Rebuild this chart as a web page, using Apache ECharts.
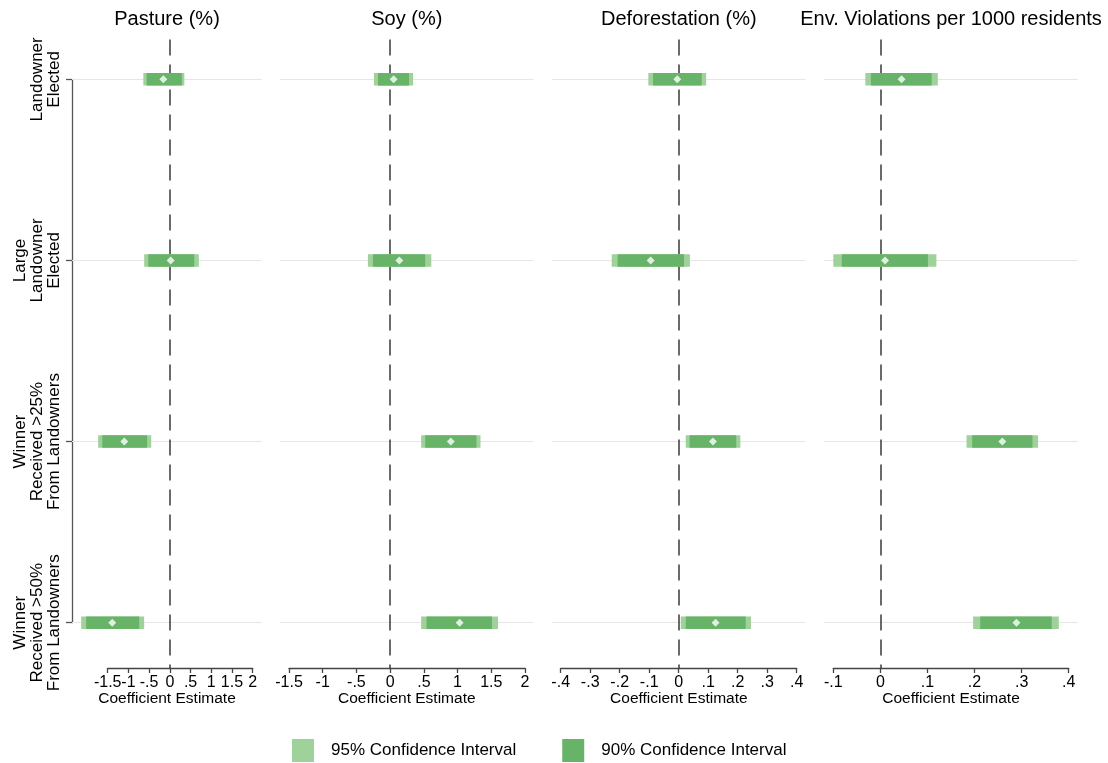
<!DOCTYPE html>
<html><head><meta charset="utf-8">
<script src="https://cdn.jsdelivr.net/npm/echarts@6/dist/echarts.min.js"></script>
<style>html,body{margin:0;padding:0;background:#fff}#c{width:1108px;height:763px}</style>
</head><body><div id="c"></div>
<script>
// ---------------- DATA ----------------
const rowLabels = ['Landowner\nElected', 'Large\nLandowner\nElected', 'Winner\nReceived >25%\nFrom Landowners', 'Winner\nReceived >50%\nFrom Landowners'];
const panelTitles = ['Pasture (%)', 'Soy (%)', 'Deforestation (%)', 'Env. Violations per 1000 residents'];
const legendNames = ['95% Confidence Interval', '90% Confidence Interval'];
const axisName = 'Coefficient Estimate';

const pastureEst  = [-0.157, 0.02, -1.10, -1.39];
const pastureCI95 = [[-0.64, 0.35], [-0.62, 0.70], [-1.73, -0.45], [-2.14, -0.62]];
const pastureCI90 = [[-0.56, 0.29], [-0.52, 0.59], [-1.63, -0.55], [-2.02, -0.74]];

const soyEst  = [0.052, 0.136, 0.90, 1.03];
const soyCI95 = [[-0.24, 0.34], [-0.33, 0.61], [0.46, 1.34], [0.46, 1.60]];
const soyCI90 = [[-0.18, 0.28], [-0.255, 0.52], [0.52, 1.28], [0.54, 1.51]];

const deforEst  = [-0.005, -0.095, 0.116, 0.125];
const deforCI95 = [[-0.103, 0.093], [-0.227, 0.038], [0.024, 0.209], [0.007, 0.245]];
const deforCI90 = [[-0.087, 0.078], [-0.207, 0.018], [0.037, 0.195], [0.024, 0.227]];

const envEst  = [0.045, 0.010, 0.259, 0.289];
const envCI95 = [[-0.032, 0.122], [-0.100, 0.119], [0.183, 0.335], [0.197, 0.379]];
const envCI90 = [[-0.020, 0.109], [-0.082, 0.101], [0.195, 0.323], [0.212, 0.364]];

const xTickMin  = [-1.5, -1.5, -0.4, -0.1];
const xTickMax  = [2, 2, 0.4, 0.4];
const xTickStep = [0.5, 0.5, 0.1, 0.1];

// ---------------- LAYOUT / STYLE ----------------
const panelEst  = [pastureEst, soyEst, deforEst, envEst];
const panelCI95 = [pastureCI95, soyCI95, deforCI95, envCI95];
const panelCI90 = [pastureCI90, soyCI90, deforCI90, envCI90];

const plotLeft    = [72, 280, 552, 824];
const plotRight   = [262, 533.6, 805.7, 1078];
const axisLeftPx  = [107.7, 289, 560.7, 833.3];
const axisRightPx = [252.7, 525, 796.7, 1068.7];
const gridTop = 39.5, gridH = 628.5;
const yMin = -0.22, yMax = 3.25;
const FONT = "'Liberation Sans', Arial, Helvetica, sans-serif";
const LIGHT = '#9fd19b', DARK = '#67b367';
const BAR_H = 12.5;

function stataNum(v) {
  const r = Math.round(v * 1000) / 1000;
  if (r === 0) return '0';
  return String(r).replace(/^(-?)0\./, '$1.');
}
function renderBar(params, api) {
  const lo = api.coord([api.value(0), api.value(2)]);
  const hi = api.coord([api.value(1), api.value(2)]);
  return {
    type: 'rect',
    shape: { x: lo[0], y: lo[1] - BAR_H / 2, width: hi[0] - lo[0], height: BAR_H },
    style: { fill: api.visual('color') }
  };
}

const grids = [], xAxes = [], yAxes = [], series = [], titles = [];

panelTitles.forEach((title, i) => {
  const W = plotRight[i] - plotLeft[i];
  const ppu = (axisRightPx[i] - axisLeftPx[i]) / (xTickMax[i] - xTickMin[i]);
  const xmin = xTickMin[i] - (axisLeftPx[i] - plotLeft[i]) / ppu;
  const xmax = xTickMax[i] + (plotRight[i] - axisRightPx[i]) / ppu;

  // data grid
  const gi = grids.length;
  grids.push({ left: plotLeft[i], top: gridTop, width: W, height: gridH, outerBoundsMode: 'none' });
  xAxes.push({
    gridIndex: gi, type: 'value', min: xmin, max: xmax,
    axisLine: { show: false, onZero: false }, axisTick: { show: false }, axisLabel: { show: false },
    splitLine: { show: false },
    name: axisName, nameLocation: 'middle', nameGap: 23,
    nameTextStyle: { fontSize: 15.5, color: '#000', fontFamily: FONT }
  });
  yAxes.push({ gridIndex: gi, type: 'value', inverse: true, min: yMin, max: yMax, show: false });
  const xi = xAxes.length - 1, yi = yAxes.length - 1;

  const lines = rowLabels.map((_, r) => ({ yAxis: r, lineStyle: { color: '#e6e6e6', width: 1, type: 'solid' } }));
  lines.push({ xAxis: 0, lineStyle: { color: '#3a3a3a', width: 1.5, type: [16, 9] } });
  series.push({
    type: 'scatter', xAxisIndex: xi, yAxisIndex: yi, data: [], silent: true, z: 1,
    markLine: { silent: true, z: 1, symbol: ['none', 'none'], label: { show: false }, animation: false, data: lines }
  });
  series.push({
    type: 'custom', name: legendNames[0], xAxisIndex: xi, yAxisIndex: yi, z: 3,
    itemStyle: { color: LIGHT }, renderItem: renderBar, encode: { x: [0, 1], y: 2 },
    data: panelCI95[i].map((c, r) => [c[0], c[1], r])
  });
  series.push({
    type: 'custom', name: legendNames[1], xAxisIndex: xi, yAxisIndex: yi, z: 4,
    itemStyle: { color: DARK }, renderItem: renderBar, encode: { x: [0, 1], y: 2 },
    data: panelCI90[i].map((c, r) => [c[0], c[1], r])
  });
  series.push({
    type: 'scatter', xAxisIndex: xi, yAxisIndex: yi, z: 6, silent: true,
    symbol: 'diamond', symbolSize: 8, itemStyle: { color: '#fff' },
    data: panelEst[i].map((v, r) => [v, r])
  });

  // visible x axis covering tick range only
  const ai = grids.length;
  grids.push({ left: axisLeftPx[i], top: gridTop + gridH - 40, width: axisRightPx[i] - axisLeftPx[i], height: 40, outerBoundsMode: 'none' });
  xAxes.push({
    gridIndex: ai, type: 'value', min: xTickMin[i], max: xTickMax[i], interval: xTickStep[i], position: 'bottom',
    axisLine: { show: true, onZero: false, lineStyle: { color: '#444', width: 1.3 } },
    axisTick: { show: true, length: 5, lineStyle: { color: '#444', width: 1.3 } },
    axisLabel: { show: true, margin: 7, fontSize: 16, color: '#000', fontFamily: FONT, formatter: stataNum, showMinLabel: true, showMaxLabel: true },
    splitLine: { show: false }
  });
  yAxes.push({ gridIndex: ai, type: 'value', show: false });

  titles.push({
    text: title, left: (plotLeft[i] + plotRight[i]) / 2, textAlign: 'center', top: 9, padding: 0,
    textStyle: { fontSize: 20, fontWeight: 'normal', color: '#000', fontFamily: FONT }
  });
});

// y axis with row labels (first panel), covering the rows only
const rowTop = gridTop + (0 - yMin) / (yMax - yMin) * gridH;
const rowBot = gridTop + (rowLabels.length - 1 - yMin) / (yMax - yMin) * gridH;
const li = grids.length;
grids.push({ left: plotLeft[0], top: rowTop, width: 10, height: rowBot - rowTop, outerBoundsMode: 'none' });
xAxes.push({ gridIndex: li, type: 'value', show: false });
yAxes.push({
  gridIndex: li, type: 'category', data: rowLabels, inverse: true, boundaryGap: false, position: 'left',
  axisLine: { show: true, onZero: false, lineStyle: { color: '#555', width: 1.3 } },
  axisTick: { show: true, length: 6, interval: 0, lineStyle: { color: '#555', width: 1.3 } },
  axisLabel: { interval: 0, rotate: 90, margin: 9, fontSize: 17, lineHeight: 17, color: '#000', fontFamily: FONT },
  splitLine: { show: false }
});

const chart = echarts.init(document.getElementById('c'), null, { renderer: 'canvas' });
chart.setOption({
  animation: false,
  backgroundColor: '#fff',
  textStyle: { fontFamily: FONT },
  title: titles,
  grid: grids,
  xAxis: xAxes,
  yAxis: yAxes,
  legend: {
    left: 292, top: 739, padding: 0, itemWidth: 22, itemHeight: 23, itemGap: 46, selectedMode: false,
    data: [
      { name: legendNames[0], icon: 'rect', itemStyle: { color: LIGHT } },
      { name: legendNames[1], icon: 'rect', itemStyle: { color: DARK } }
    ],
    textStyle: { fontSize: 17, color: '#000', fontFamily: FONT, padding: [0, 0, 0, 12] }
  },
  series: series
});
</script>
</body></html>
